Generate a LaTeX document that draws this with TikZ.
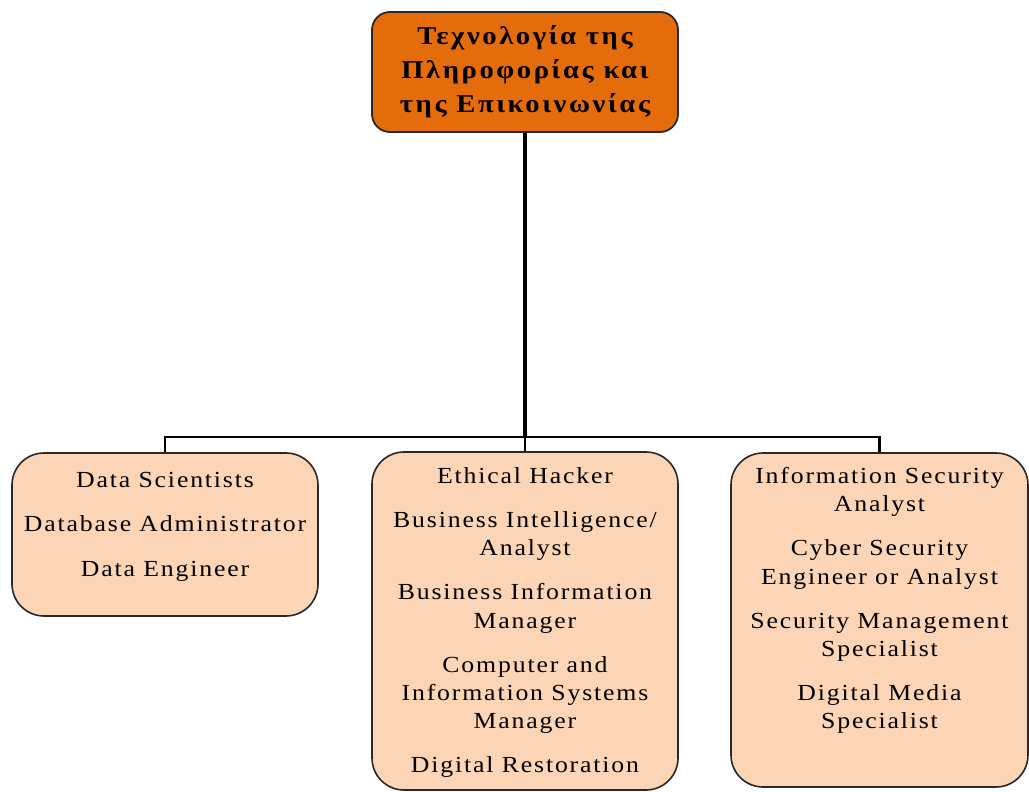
\documentclass[tikz,border=0pt]{standalone}
\usepackage{fontspec}
\setmainfont{Liberation Serif}[LetterSpace=8,FakeStretch=1.12]
\newfontfamily\topfont{Liberation Serif}[LetterSpace=10,FakeStretch=1.12]
\definecolor{orangeC}{RGB}{228,108,10}
\definecolor{peach}{RGB}{251,213,181}
\definecolor{edge}{RGB}{40,40,40}
\begin{document}
\begin{tikzpicture}[x=0.5pt,y=-0.5pt,
  topbox/.style={draw=edge, line width=0.9pt, fill=orangeC, rounded corners=9pt,
    minimum width=153pt, minimum height=60pt, inner sep=0pt, align=center,
    font=\topfont\fontsize{12.8}{17}\selectfont\bfseries},
  jobbox/.style={draw=edge, line width=0.8pt, fill=peach, rounded corners=16pt, inner sep=0pt},
  jobtext/.style={anchor=north, inner sep=0pt, align=center,
    font=\fontsize{11.5}{14.1}\selectfont},
  trunk/.style={line width=1.8pt, black},
  bus/.style={line width=1.2pt, black}]
\useasboundingbox (0,0) rectangle (1029,792);
\node[topbox] (top) at (525,72) {Τεχνολογία της\\Πληροφορίας και\\της Επικοινωνίας};
\node[jobbox, minimum width=153pt, minimum height=81.5pt] (left) at (165,534.5) {};
\node[jobbox, minimum width=153pt, minimum height=169pt] (mid) at (525,621) {};
\node[jobbox, minimum width=148.5pt, minimum height=167pt] (right) at (879.5,620) {};
\coordinate (busc) at (525,437);
\draw[trunk] (top.south) -- (busc);
\draw[bus] (left.north) |- (busc) -| (right.north);
\draw[bus] (busc) -- (mid.north);
\node[jobtext] (lt) at (165,472) {Data Scientists\\[8pt]Database Administrator\\[8pt]Data Engineer};
\node[jobtext] (mt) at (525,467) {Ethical Hacker\\[8pt]Business Intelligence/\\Analyst\\[8pt]Business Information\\Manager\\[8pt]Computer and\\Information Systems\\Manager\\[8pt]Digital Restoration};
\node[jobtext] (rt) at (879.5,467) {Information Security\\Analyst\\[8pt]Cyber Security\\Engineer or Analyst\\[8pt]Security Management\\Specialist\\[8pt]Digital Media\\Specialist};
\end{tikzpicture}
\end{document}
